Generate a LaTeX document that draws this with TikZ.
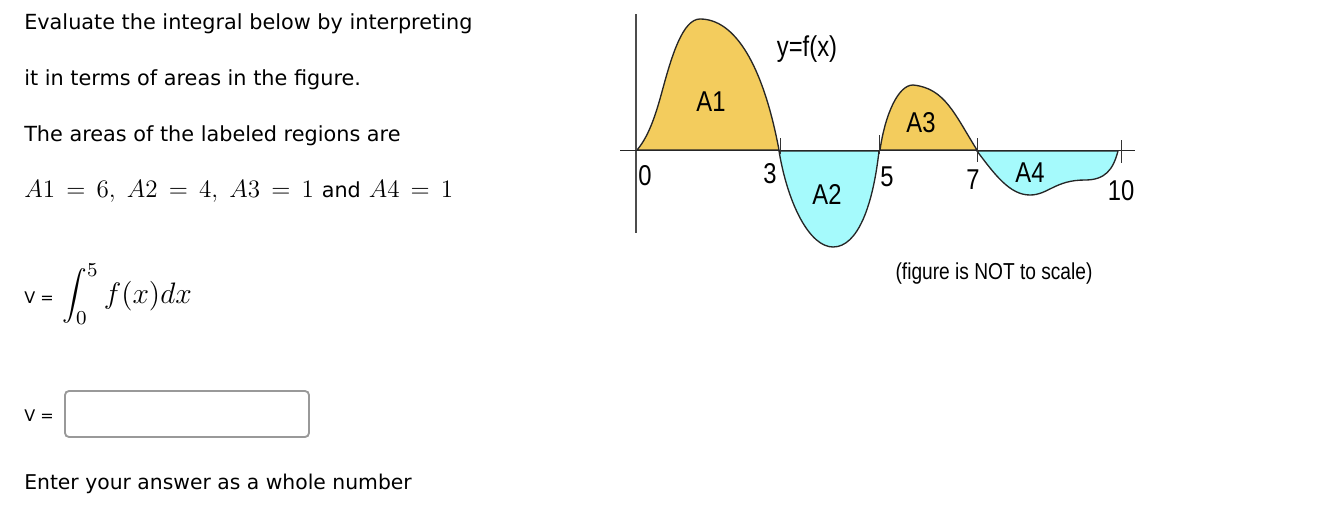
\documentclass[tikz,border=0pt]{standalone}
\usepackage{fontspec}
\setmainfont{DejaVu Sans}
\newfontfamily\figfont[FakeStretch=0.83]{Liberation Sans}
\definecolor{areaup}{RGB}{243,204,93}
\definecolor{areadown}{RGB}{165,250,252}
\tikzset{
    txt/.style={anchor=base west,inner sep=0,font=\fontsize{15.6}{18}\selectfont},
    eqn/.style={anchor=base west,inner sep=0,font=\fontsize{12}{14}\selectfont},
    fig/.style={inner sep=0,font=\figfont\fontsize{21.5}{24}\selectfont},
    curve/.style={draw=black!85,line width=1pt}
}
\begin{document}
\begin{tikzpicture}[x=0.75pt,y=-0.75pt]
    \useasboundingbox (0,0) rectangle (1340,508);

    % Text
    \node [txt] (l1) at(24,29) {Evaluate the integral below by interpreting};
    \node [txt] (l2) at(24,85) {it in terms of areas in the figure.};
    \node [txt] (l3) at(24,141) {The areas of the labeled regions are};
    \node [eqn,scale=1.57] (l4) at(24,197) {$A1\,=\,6,\;A2\,=\,4,\;A3\,=\,1$ {\fontsize{9.9}{12}\selectfont and} $A4\,=\,1$};
    \node [eqn] (v1) at(24,303) {V =};
    \node [eqn,scale=1.85] (int) at(62,303) {$\displaystyle\int_0^5 f(x)dx$};
    \node [eqn] (v2) at(24,421) {V =};
    \draw [rounded corners=3pt,draw=black!40,line width=1.4pt] (65,391) rectangle (309,437);
    \node [txt,font=\fontsize{15.25}{18}\selectfont] (l5) at(24,489) {Enter your answer as a whole number};

    % Regions
    \draw [curve,fill=areaup] (637,150) .. controls (650,135) and (657,110) .. (663,88) .. controls (672,55) and (683,19) .. (700,19) .. controls (735,19) and (763,65) .. (779,150) -- cycle;
    \draw [curve,fill=areadown] (779,151) .. controls (788,205) and (810,247) .. (833,247) .. controls (858,247) and (873,205) .. (879,151) -- cycle;
    \draw [curve,fill=areaup] (880,150) .. controls (885,115) and (898,85) .. (913,85) .. controls (945,88) and (955,115) .. (977,150) -- cycle;
    \draw [curve,fill=areadown] (977,151) .. controls (995,175) and (1010,195) .. (1030,195) .. controls (1048,195) and (1055,180) .. (1085,180) .. controls (1105,180) and (1113,170) .. (1118,151) -- cycle;

    % Axis
    \draw [black!70,line width=0.9pt] (636,14)--(636,233);
    \draw [black!85,line width=1pt] (620,150.5)--(1135,150.5);
    \draw [black!80,line width=0.7pt] (780,138)--(780,154) (879,135)--(879,154) (977,138)--(977,162) (1121,140)--(1121,163);

    % Labels
    \node [fig] (n0) at(645,176) {0};
    \node [fig] (n3) at(770,174) {3};
    \node [fig] (n5) at(887,177) {5};
    \node [fig] (n7) at(973,180) {7};
    \node [fig] (n10) at(1121,191) {10};
    \node [fig] (A1) at(711,102) {A1};
    \node [fig] (A2) at(827,194) {A2};
    \node [fig] (A3) at(921,123) {A3};
    \node [fig] (A4) at(1030,173) {A4};
    \node [fig] (yfx) at(807,49) {y=f(x)};
    \node [fig,font=\figfont\fontsize{17.3}{20}\selectfont] (note) at(994,274) {(figure is NOT to scale)};
\end{tikzpicture}
\end{document}
